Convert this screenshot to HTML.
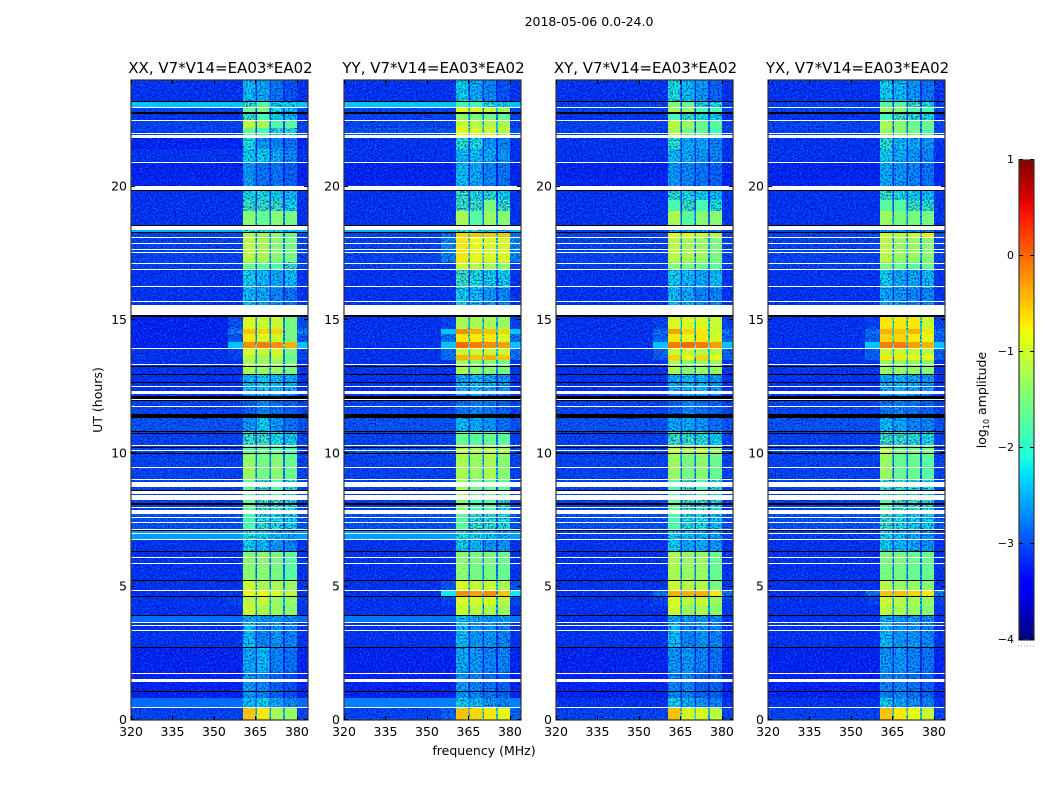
<!DOCTYPE html>
<html lang="en">
<head>
<meta charset="utf-8">
<title>2018-05-06 0.0-24.0</title>
<style>
html,body{margin:0;padding:0;background:#fff;}
svg{display:block;}
text{font-family:"DejaVu Sans","Liberation Sans",sans-serif;fill:#000;}
</style>
</head>
<body>
<svg id="chart" xmlns="http://www.w3.org/2000/svg" width="1050" height="800" viewBox="0 0 1050 800">
  <defs id="defs">
    <filter id="speckle-light" x="0" y="0" width="100%" height="100%" color-interpolation-filters="sRGB">
      <feTurbulence type="fractalNoise" baseFrequency="0.6" numOctaves="1" seed="3"/>
      <feColorMatrix type="matrix" values="0 0 0 0 0  0 0 0 0 0.5  0 0 0 0 1  3 0 0 0 -1.5"/>
    </filter>
    <filter id="speckle-dark" x="0" y="0" width="100%" height="100%" color-interpolation-filters="sRGB">
      <feTurbulence type="fractalNoise" baseFrequency="0.6" numOctaves="1" seed="11"/>
      <feColorMatrix type="matrix" values="0 0 0 0 0  0 0 0 0 0  0 0 0 0 0.65  3 0 0 0 -1.25"/>
    </filter>
    <linearGradient id="jet-gradient" x1="0" y1="1" x2="0" y2="0"></linearGradient>
  </defs>
  <text x="589" y="26" font-size="12.5" text-anchor="middle">2018-05-06 0.0-24.0</text>
  <text x="484" y="755" font-size="12.5" text-anchor="middle">frequency (MHz)</text>
  <text x="102" y="400" font-size="12.5" text-anchor="middle" transform="rotate(-90 102 400)">UT (hours)</text>
  <text x="986" y="400" font-size="12.5" text-anchor="middle" transform="rotate(-90 986 400)">log<tspan font-size="8" dy="3">10</tspan><tspan dy="-3"> amplitude</tspan></text>
  <g id="panels"></g>
  <g id="colorbar"></g>
</svg>
<script>
// Time-segment boundaries (UT hours), top of the plot to the bottom.
const segmentEdges = [24,23.21,22.99,22.76,22.5,22.2,21.86,21.4,20.89,19.84,19.5,19.1,18.56,18.31,18.08,17.18,16.88,16.2,15.15,14.66,14.47,14.18,13.95,13.69,13.5,12.94,12.19,11.44,10.8,10.31,9.94,9,8.25,7.73,7.13,6.75,6.3,5.25,4.88,4.6,4.3,3.93,3.66,2.7,1.8,0.83,0.49,0];

// Spectral columns (MHz).
const backgroundBand = [320,384];
const wingBands = [[355,360.5],[380,384]];
const signalBands = [[360.5,365],[365.6,370],[370.6,375],[375.6,380]];

// log10 amplitude per time segment: [background, wing, band1, band2, band3, band4]
const levelsXX = [
[-3.1,-3.1,-2.3,-2.4,-2.7,-2.9],[-2.4,-2.4,-1.9,-1.7,-2.2,-2.2],[-3,-3,-1.6,-1.5,-2.1,-2.3],[-3.1,-3.1,-1.9,-1.8,-2.2,-2.3],
[-3,-3,-1.1,-1.2,-1.8,-1.7],[-3,-3,-1.6,-1.8,-2,-2],[-3.2,-3.2,-2.1,-2.5,-2.6,-2.7],[-3.1,-3.1,-2.2,-2.2,-2.4,-2.6],
[-3.2,-3.2,-2.5,-2.7,-2.7,-2.8],[-3.1,-3.1,-2.1,-2.1,-2.2,-2.3],[-3.1,-3.1,-1.9,-1.9,-1.9,-2.2],[-3.1,-3.1,-1.4,-1.6,-1.4,-1.5],
[-2.5,-2.5,-2,-2,-2.2,-2.3],[-3,-3,-1.2,-1.3,-1.4,-1.6],[-3,-3,-1.1,-1.2,-1.4,-1.5],[-3,-3,-1.6,-1.7,-1.8,-1.9],
[-3.1,-3.1,-2.2,-2.3,-2.4,-2.3],[-3.1,-3.1,-2.3,-2.4,-2.6,-2.7],[-3.2,-2.9,-0.9,-1,-1,-1.5],[-3.2,-2.6,-0.5,-0.6,-0.6,-1.5],
[-3.2,-2.9,-0.7,-0.9,-1,-1.5],[-3.2,-2.4,-0.2,-0.1,-0.2,-0.4],[-3.1,-3,-0.9,-1,-0.9,-1.5],[-3.1,-3,-1.1,-1.2,-1.1,-1.6],
[-3.1,-3.1,-1.2,-1.3,-1.3,-1.5],[-3.1,-3.1,-2.3,-2.2,-2.3,-2.4],[-3,-3,-2.8,-2.6,-2.7,-2.8],[-2.9,-2.9,-2.5,-2.2,-2.5,-2.7],
[-3,-3,-1.9,-1.9,-2.1,-2.2],[-3,-3,-1.6,-1.6,-1.7,-1.8],[-3,-3,-1.3,-1.5,-1.4,-1.6],[-3,-3,-1.7,-1.9,-1.8,-2],
[-3,-3,-1.6,-1.9,-1.9,-2.1],[-2.9,-2.9,-1.8,-2,-2.1,-2.2],[-2.6,-2.6,-2.1,-2.2,-2.4,-2.5],[-3.1,-3.1,-2.2,-2.3,-2.5,-2.6],
[-3.1,-3.1,-1.4,-1.4,-1.5,-1.7],[-3.1,-3.1,-1,-1.2,-1.2,-1.3],[-3.1,-3.1,-0.8,-0.8,-0.9,-1],[-3.1,-3,-1.1,-1,-1.3,-1.3],
[-3.1,-3.1,-1,-1.2,-1.3,-1.4],[-2.85,-2.85,-2.4,-2.5,-2.5,-2.6],[-3.1,-3.1,-2.3,-2.6,-2.5,-2.6],[-3.2,-3.2,-2.4,-2.3,-2.6,-2.7],
[-3.2,-3.2,-2.5,-2.6,-2.8,-2.9],[-2.85,-2.85,-2.3,-2.2,-2.4,-2.6],[-3,-3,-0.5,-0.7,-1.2,-1.3]];

const levelsYY = [
[-3.1,-3.1,-2.2,-2.4,-2.6,-2.9],[-2.4,-2.4,-1.8,-1.8,-2.1,-2.2],[-3,-3,-0.8,-0.9,-1,-1.2],[-3,-3,-1.4,-1.5,-1.5,-1.6],
[-3,-3,-1,-1.1,-1.1,-1.2],[-2.9,-2.9,-0.8,-0.9,-1,-1.1],[-3.1,-3.1,-2,-2.1,-2.5,-2.6],[-3.1,-3.1,-2.3,-2.3,-2.4,-2.5],
[-3.2,-3.2,-2.3,-2.4,-2.6,-2.7],[-3.1,-3.1,-1.9,-2.1,-2,-2.2],[-3.1,-3.1,-1.9,-1.9,-1.5,-1.9],[-3.1,-3.1,-1.2,-1.7,-1.3,-1.4],
[-2.5,-2.5,-2,-2,-2.2,-2.3],[-3,-2.7,-0.6,-0.5,-0.5,-0.5],[-3,-2.6,-0.7,-0.8,-0.9,-0.9],[-3,-3,-1,-1.1,-1.2,-1.3],
[-3.1,-3.1,-1.9,-2.1,-2.2,-2.2],[-3.1,-3.1,-2.2,-2.3,-2.5,-2.6],[-3.1,-3,-1.2,-1.2,-1.2,-1.3],[-3.1,-2.4,-0.2,-0.4,-0.5,-0.6],
[-3.1,-2.7,-0.7,-0.7,-0.7,-0.9],[-3.1,-2.4,0,-0.1,-0.2,-0.3],[-3.1,-2.7,-1,-1,-1,-1],[-3.1,-2.7,-0.4,-0.5,-0.4,-0.5],
[-3.1,-3.1,-1.2,-1.4,-1.4,-1.5],[-3.1,-3.1,-2.4,-2.3,-2.4,-2.5],[-3,-3,-2.7,-2.6,-2.7,-2.8],[-2.9,-2.9,-2.3,-2.4,-2.5,-2.7],
[-3,-3,-1.6,-1.7,-1.6,-1.7],[-2.9,-2.9,-1.1,-1.2,-1.1,-1.2],[-3,-3,-1.2,-1.3,-1.2,-1.4],[-3,-3,-1.3,-1.6,-1.6,-1.7],
[-3,-3,-1.4,-1.8,-1.7,-2],[-2.9,-2.9,-1.7,-2,-2,-2.1],[-2.6,-2.6,-2.1,-2.2,-2.3,-2.4],[-3.1,-3.1,-2.2,-2.3,-2.5,-2.5],
[-3.1,-3.1,-1.4,-1.5,-1.5,-1.6],[-3.1,-2.9,-0.9,-1,-1,-1.2],[-3.1,-2.2,-0.2,-0.3,-0.2,-0.5],[-3.1,-3,-0.9,-0.9,-0.9,-1.1],
[-3.1,-3.1,-1,-1.1,-1.2,-1.3],[-2.8,-2.8,-2.3,-2.4,-2.5,-2.5],[-3.1,-3.1,-2.3,-2.5,-2.5,-2.6],[-3.2,-3.2,-2.4,-2.5,-2.6,-2.6],
[-3.2,-3.2,-2.5,-2.6,-2.7,-2.8],[-2.75,-2.75,-2.2,-2.3,-2.5,-2.6],[-3,-2.8,-0.5,-0.6,-0.7,-0.8]];

const levelsXY = [
[-3.1,-3.1,-2.1,-2.3,-2.5,-2.8],[-3,-3,-1.5,-1.6,-2,-2.1],[-3,-3,-1.2,-1.3,-1.8,-1.8],[-3.1,-3.1,-1.8,-1.9,-2.1,-2.2],
[-3,-3,-1.1,-1.3,-1.6,-1.7],[-3,-3,-1.2,-1.5,-1.6,-1.8],[-3.1,-3.1,-2,-2.4,-2.4,-2.6],[-3.1,-3.1,-2.3,-2.4,-2.5,-2.6],
[-3.2,-3.2,-2.5,-2.6,-2.7,-2.8],[-3.1,-3.1,-2,-2.1,-2.2,-2.3],[-3.1,-3.1,-1.8,-1.9,-1.8,-2.1],[-3.1,-3.1,-1.2,-1.7,-1.4,-1.4],
[-3,-3,-2.5,-2.5,-2.6,-2.6],[-3,-3,-0.9,-0.9,-1,-1.1],[-3,-3,-1.1,-1.2,-1.3,-1.5],[-3,-3,-1.4,-1.5,-1.6,-1.7],
[-3.1,-3.1,-2.2,-2.3,-2.4,-2.3],[-3.1,-3.1,-2.3,-2.4,-2.6,-2.6],[-3.1,-3,-0.9,-0.9,-0.9,-1],[-3.1,-2.7,-0.3,-0.6,-0.7,-1],
[-3.1,-2.8,-0.7,-0.8,-0.7,-0.9],[-3.1,-2.4,-0.1,0,-0.1,-0.3],[-3.1,-2.8,-1,-1,-1.1,-1.1],[-3.1,-2.8,-0.6,-0.8,-0.6,-0.8],
[-3.1,-3.1,-1.2,-1.4,-1.3,-1.3],[-3.1,-3.1,-2.4,-2.3,-2.3,-2.5],[-3,-3,-2.8,-2.6,-2.7,-2.8],[-2.9,-2.9,-2.4,-2.4,-2.5,-2.7],
[-3,-3,-1.9,-1.9,-2,-2.2],[-3,-3,-1.1,-1.2,-1.1,-1.3],[-3,-3,-1.3,-1.5,-1.4,-1.6],[-3,-3,-1.8,-1.9,-1.8,-2],
[-3,-3,-1.6,-1.9,-1.9,-2.1],[-2.9,-2.9,-1.8,-2.1,-2.1,-2.3],[-3,-3,-2.2,-2.3,-2.4,-2.5],[-3.1,-3.1,-2.2,-2.4,-2.4,-2.5],
[-3.1,-3.1,-1.2,-1.3,-1.3,-1.6],[-3.1,-3.1,-1,-1.1,-1.1,-1.5],[-3.1,-2.7,-0.4,-0.4,-0.4,-0.7],[-3.1,-3,-0.9,-1.1,-1,-1.3],
[-3.1,-3.1,-1,-1.3,-1.2,-1.4],[-3.1,-3.1,-2.4,-2.5,-2.5,-2.6],[-3.1,-3.1,-2.3,-2.6,-2.5,-2.6],[-3.2,-3.2,-2.5,-2.5,-2.6,-2.7],
[-3.2,-3.2,-2.6,-2.6,-2.8,-2.8],[-3.1,-3.1,-2.2,-2.4,-2.5,-2.6],[-3,-3,-0.5,-0.9,-0.9,-1.1]];

const levelsYX = [
[-3.1,-3.1,-2.2,-2.3,-2.5,-2.7],[-3,-3,-1.7,-1.7,-1.9,-2.1],[-3,-3,-1.3,-1.4,-1.7,-1.8],[-3.1,-3.1,-1.8,-1.9,-2,-2.1],
[-3,-3,-1.2,-1.4,-1.6,-1.6],[-3,-3,-1.3,-1.4,-1.5,-1.7],[-3.1,-3.1,-2,-2.3,-2.4,-2.5],[-3.1,-3.1,-2.2,-2.4,-2.5,-2.6],
[-3.2,-3.2,-2.4,-2.5,-2.6,-2.7],[-3.1,-3.1,-1.9,-2.1,-2.2,-2.3],[-3.1,-3.1,-1.7,-1.7,-1.9,-2],[-3.1,-3.1,-1.3,-1.5,-1.5,-1.5],
[-3,-3,-2.5,-2.5,-2.6,-2.6],[-3,-2.9,-1,-1.1,-1,-0.7],[-3,-3,-1.1,-1.3,-1.3,-1.4],[-3,-3,-1.5,-1.6,-1.7,-1.6],
[-3.1,-3.1,-2.2,-2.4,-2.4,-2.3],[-3.1,-3.1,-2.4,-2.5,-2.6,-2.6],[-3.1,-3,-0.7,-0.7,-0.7,-1],[-3.1,-2.7,-0.4,-0.5,-0.4,-0.7],
[-3.1,-2.8,-0.6,-0.6,-0.7,-0.8],[-3.1,-2.4,-0.1,-0.1,-0.3,-0.4],[-3.1,-2.8,-1,-1,-1,-1.1],[-3.1,-2.8,-0.7,-0.7,-0.8,-0.8],
[-3.1,-3.1,-1.3,-1.3,-1.3,-1.4],[-3.1,-3.1,-2.4,-2.3,-2.4,-2.5],[-3,-3,-2.7,-2.6,-2.7,-2.8],[-2.9,-2.9,-2.3,-2.4,-2.6,-2.6],
[-3,-3,-1.9,-1.9,-2,-2.1],[-3,-3,-1.1,-1.5,-1.5,-1.5],[-3,-3,-1.3,-1.6,-1.6,-1.7],[-3,-3,-1.9,-2,-2,-2.1],
[-3,-3,-1.7,-1.9,-1.9,-2],[-2.9,-2.9,-1.9,-2.1,-2.2,-2.2],[-3,-3,-2.2,-2.3,-2.4,-2.5],[-3.1,-3.1,-2.2,-2.3,-2.4,-2.5],
[-3.1,-3.1,-1.5,-1.5,-1.6,-1.6],[-3.1,-3.1,-1.1,-1.3,-1.3,-1.4],[-3.1,-2.7,-0.5,-0.5,-0.6,-0.7],[-3.1,-3,-1,-1.1,-1.2,-1.3],
[-3.1,-3.1,-1.1,-1.2,-1.3,-1.4],[-3.1,-3.1,-2.4,-2.5,-2.5,-2.6],[-3.1,-3.1,-2.3,-2.5,-2.5,-2.6],[-3.2,-3.2,-2.5,-2.5,-2.6,-2.7],
[-3.2,-3.2,-2.6,-2.6,-2.7,-2.8],[-3.1,-3.1,-2.2,-2.4,-2.5,-2.6],[-3,-3,-0.5,-0.7,-0.8,-1]];

// Flagged (no data, white) intervals in hours: [upper, lower]
const flaggedIntervals = [[22.98,22.94],[22.5,22.46],[22.01,21.98],[21.94,21.84],[20.93,20.89],[20.03,19.86],[18.56,18.38],[18.11,18.08],[17.89,17.85],[17.66,17.63],[17.55,17.51],[17.14,17.1],[16.91,16.88],[16.28,16.24],[15.71,15.68],[15.56,15.17],[13.95,13.91],[13.35,13.31],[12.53,12.49],[12.34,12.23],[12.03,12],[11.78,11.74],[10.31,10.28],[10.13,10.09],[10.03,10],[9.49,9.45],[9.04,9],[8.94,8.92],[8.9,8.74],[8.59,8.48],[8.44,8.25],[7.99,7.95],[7.88,7.73],[7.63,7.6],[7.43,7.39],[7.18,7.14],[7.01,6.98],[6.79,6.75],[6.11,6.08],[5.89,5.85],[4.88,4.84],[3.66,3.64],[3.56,3.53],[3.38,3.32],[1.76,1.73],[1.52,1.44],[0.49,0.45]];

// Zero-valued (black) intervals in hours: [upper, lower]
const zeroIntervals = [[23.21,23.16],[22.79,22.74],[19.86,19.82],[18.57,18.55],[18.31,18.28],[15.17,15.13],[13.29,13.26],[12.98,12.94],[12.67,12.64],[12.15,12.04],[12,11.96],[11.48,11.34],[10.82,10.79],[10.76,10.73],[10.24,10.2],[10,9.97],[8.64,8.61],[8.12,8.08],[7.14,7.11],[6.33,6.29],[5.25,5.21],[4.64,4.6],[3.93,3.89],[2.74,2.7],[1.08,1.04]];

const panelTitles = ["XX, V7*V14=EA03*EA02","YY, V7*V14=EA03*EA02","XY, V7*V14=EA03*EA02","YX, V7*V14=EA03*EA02"];
const panelKeys = ["xx","yy","xy","yx"];
const panelLevels = [levelsXX,levelsYY,levelsXY,levelsYX];
const freqTicks = [320,335,350,365,380];
const hourTicks = [0,5,10,15,20];
const colorbarTicks = [-4,-3,-2,-1,0,1];

const NS = "http://www.w3.org/2000/svg";
const plotTop = 80, plotBottom = 720, plotWidth = 177;
const panelLefts = [131,344,556,768];
const freqMin = 320, freqMax = 384, hourMin = 0, hourMax = 24;
const levelMin = -4, levelMax = 1;
const barLeft = 1019, barRight = 1034, barTop = 160, barBottom = 640;
const smoothThreshold = -2.88;
const wingSmoothThreshold = -2.5;
const mottledThreshold = -1.8;

function yOfHour(h){ return plotBottom - (h-hourMin)/(hourMax-hourMin)*(plotBottom-plotTop); }
function xOfFreq(left,f){ return left + (f-freqMin)/(freqMax-freqMin)*plotWidth; }
function yOfLevel(v){ return barBottom - (v-levelMin)/(levelMax-levelMin)*(barBottom-barTop); }

function interp(points,t){
  for(let i=1;i<points.length;i++){
    if(t<=points[i][0]){
      const a=points[i-1], b=points[i];
      return a[1]+(b[1]-a[1])*(t-a[0])/(b[0]-a[0]);
    }
  }
  return points[points.length-1][1];
}
const jetR=[[0,0],[0.35,0],[0.66,1],[0.89,1],[1,0.5]];
const jetG=[[0,0],[0.125,0],[0.375,1],[0.64,1],[0.91,0],[1,0]];
const jetB=[[0,0.5],[0.11,1],[0.34,1],[0.65,0],[1,0]];
function jet(level){
  const t=Math.max(0,Math.min(1,(level-levelMin)/(levelMax-levelMin)));
  return "rgb("+Math.round(interp(jetR,t)*255)+","+Math.round(interp(jetG,t)*255)+","+Math.round(interp(jetB,t)*255)+")";
}
function make(tag,attrs,parent){
  const el=document.createElementNS(NS,tag);
  for(const k in attrs){ el.setAttribute(k,attrs[k]); }
  parent.appendChild(el);
  return el;
}
function cell(parent,name,x0,x1,y0,y1,fill){
  const r=make("rect",{x:x0,y:y0,width:x1-x0,height:y1-y0,fill:fill,"shape-rendering":"crispEdges"},parent);
  
  
  return r;
}
function speckle(parent,name,left,filterId,opacity){
  const r=make("rect",{x:left,y:plotTop,width:plotWidth,height:plotBottom-plotTop,filter:"url(#"+filterId+")",opacity:opacity},parent);
  
  
  return r;
}

const defsEl=document.getElementById("defs");
const panelsRoot=document.getElementById("panels");
panelLefts.forEach(function(left,p){
  const key=panelKeys[p], levels=panelLevels[p];
  const X=function(f){return xOfFreq(left,f);};
  const g=make("g",{},panelsRoot);
  
  
  const clip=make("clipPath",{id:"mottled-"+key},defsEl);

  levels.forEach(function(row,i){
    const y0=Math.round(yOfHour(segmentEdges[i])), y1=Math.round(yOfHour(segmentEdges[i+1]));
    cell(g,key+'-background-cell',X(backgroundBand[0]),X(backgroundBand[1]),y0,y1,jet(row[0]));
    wingBands.forEach(function(w){
      cell(g,key+'-wing-cell',X(w[0]),X(w[1]),y0,y1,jet(row[1]));
    });
    const gapLevel=Math.max(row[0],Math.min(row[2],row[3],row[4],row[5])-1);
    cell(g,key+'-band-gap-cell',X(signalBands[0][0]),X(signalBands[3][1]),y0,y1,jet(gapLevel));
  });
  speckle(g,key+'-background-noise-light',left,'speckle-light','0.8');
  speckle(g,key+'-background-noise-dark',left,'speckle-dark','0.8');

  levels.forEach(function(row,i){
    const y0=Math.round(yOfHour(segmentEdges[i])), y1=Math.round(yOfHour(segmentEdges[i+1]));
    if(row[0]>smoothThreshold){
      cell(g,key+'-bright-stripe-cell',X(backgroundBand[0]),X(backgroundBand[1]),y0,y1,jet(row[0]));
    }
    if(row[1]>wingSmoothThreshold && row[1]!==row[0]){
      wingBands.forEach(function(w){
        cell(g,key+'-bright-wing-cell',X(w[0]),X(w[1]),y0,y1,jet(row[1]));
      });
    }
    signalBands.forEach(function(b,j){
      cell(g,key+'-band-'+(j+1)+'-cell',X(b[0]),X(b[1]),y0,y1,jet(row[2+j]));
      if(row[2+j]<mottledThreshold){
        make("rect",{x:X(b[0]),y:y0,width:X(b[1])-X(b[0]),height:y1-y0},clip);
      }
    });
  });
  speckle(g,key+'-band-noise',left,'speckle-light','0.25');
  const mottled=make("g",{"clip-path":"url(#mottled-"+key+")"},g);
  
  
  speckle(mottled,key+'-weak-band-noise-dark',left,'speckle-dark','0.75');

  flaggedIntervals.forEach(function(iv){
    const y0=Math.round(yOfHour(iv[0])), y1=Math.max(y0+1,Math.round(yOfHour(iv[1])));
    cell(g,key+'-flagged-interval',left,left+plotWidth,y0,y1,"#ffffff");
  });
  zeroIntervals.forEach(function(iv){
    const y0=Math.round(yOfHour(iv[0])), y1=Math.max(y0+1,Math.round(yOfHour(iv[1])));
    cell(g,key+'-zero-interval',left,left+plotWidth,y0,y1,"#000000");
  });

  const frame=make("rect",{x:left,y:plotTop,width:plotWidth,height:plotBottom-plotTop,fill:"none",stroke:"#333","stroke-width":"1.2"},g);
  
  

  freqTicks.forEach(function(f){
    const x=Math.round(xOfFreq(left,f))+0.5;
    const t1=make("line",{x1:x,x2:x,y1:plotBottom,y2:plotBottom-4,stroke:"#000"},g);
    
    
    const t2=make("line",{x1:x,x2:x,y1:plotTop,y2:plotTop+4,stroke:"#000"},g);
    
    
    const lab=make("text",{x:xOfFreq(left,f),y:plotBottom+16,"font-size":"12.5","text-anchor":"middle"},g);
    
    
    lab.textContent=String(f);
  });
  hourTicks.forEach(function(h){
    const y=Math.round(yOfHour(h))-0.5;
    const t1=make("line",{x1:left,x2:left+4,y1:y,y2:y,stroke:"#000"},g);
    
    
    const t2=make("line",{x1:left+plotWidth,x2:left+plotWidth-4,y1:y,y2:y,stroke:"#000"},g);
    
    
    const lab=make("text",{x:left-4,y:yOfHour(h)+4,"font-size":"12.5","text-anchor":"end"},g);
    
    
    lab.textContent=String(h);
  });

  const title=make("text",{x:left+plotWidth/2+1,y:73,"font-size":"15","text-anchor":"middle"},g);
  
  
  title.textContent=panelTitles[p];
});

// Colorbar
const grad=document.getElementById("jet-gradient");
for(let i=0;i<=50;i++){
  const v=levelMin+(levelMax-levelMin)*i/50;
  make("stop",{offset:(i*2)+"%","stop-color":jet(v)},grad);
}
const cb=document.getElementById("colorbar");
const bar=make("rect",{x:barLeft,y:barTop,width:barRight-barLeft,height:barBottom-barTop,fill:"url(#jet-gradient)",stroke:"#333","stroke-width":"1.2"},cb);


colorbarTicks.forEach(function(v){
  const y=Math.round(yOfLevel(v))-0.5;
  const t1=make("line",{x1:barLeft,x2:barLeft+4,y1:y,y2:y,stroke:"#000"},cb);
  
  
  const t2=make("line",{x1:barRight,x2:barRight-4,y1:y,y2:y,stroke:"#000"},cb);
  
  
  const lab=make("text",{x:barLeft-5,y:yOfLevel(v)+3,"font-size":"11","text-anchor":"end"},cb);
  
  
  lab.textContent=(v<0?"\u2212"+Math.abs(v):String(v));
});
const dots=make("line",{x1:1018,x2:1035,y1:646,y2:646,stroke:"#999","stroke-dasharray":"1 2"},cb);


</script>
</body>
</html>
